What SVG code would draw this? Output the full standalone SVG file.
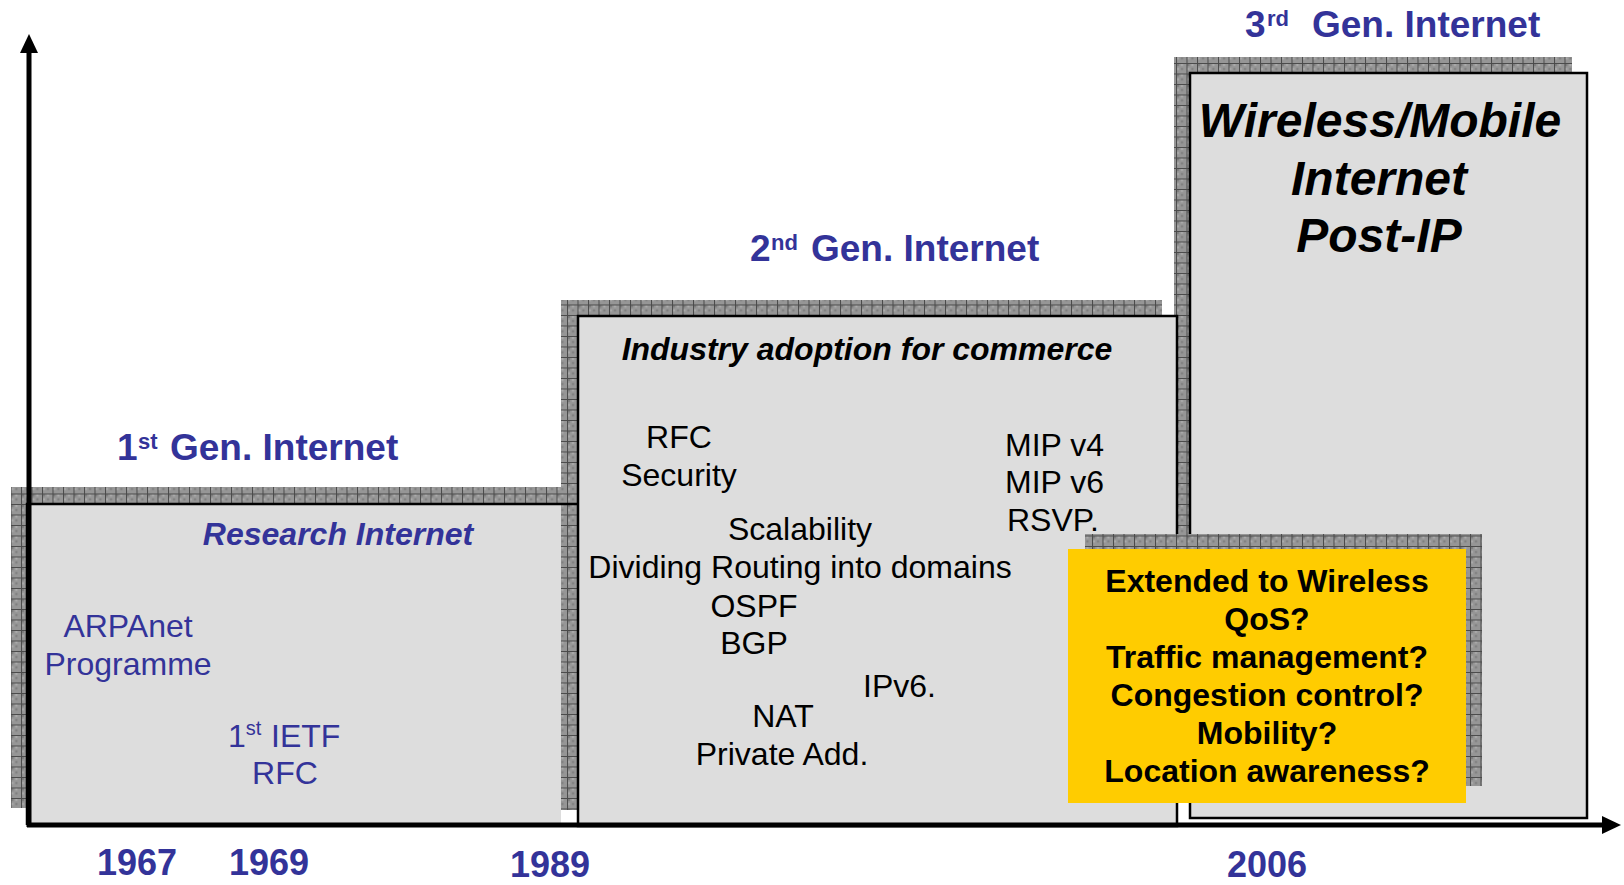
<svg xmlns="http://www.w3.org/2000/svg" width="1624" height="885" viewBox="0 0 1624 885">
<defs>
<pattern id="grid" width="10.5" height="10.5" patternUnits="userSpaceOnUse">
<rect width="10.5" height="10.5" fill="#969696"/>
<rect x="1" y="1" width="2" height="2" fill="#7c7c7c"/>
<rect x="5" y="5" width="2" height="2" fill="#7c7c7c"/>
<rect x="5" y="1" width="2" height="2" fill="#adadad"/>
<rect x="1" y="5" width="2" height="2" fill="#adadad"/>
<path d="M0 0.5 H10.5 M0.5 0 V10.5" stroke="#4a4a4a" stroke-width="1"/>
</pattern>
<marker id="arrow" markerUnits="userSpaceOnUse" markerWidth="19" markerHeight="18" refX="0" refY="9" orient="auto">
<path d="M0 0 L19 9 L0 18 Z" fill="#000"/>
</marker>
</defs>
<style>
.shadow{fill:url(#grid)}
.box{fill:#dddddd;stroke:#000;stroke-width:2.5}
.t{font-family:"Liberation Sans",Arial,sans-serif}
.blue{fill:#333399}
.blk{fill:#000}
.title{font-size:37px;font-weight:bold}
.year{font-size:36px;font-weight:bold}
.bi{font-weight:bold;font-style:italic}
.reg{font-size:32px}
.regb{font-size:32px}
.ybox{font-size:32px;font-weight:bold}
.mid{text-anchor:middle}
</style>
<rect width="1624" height="885" fill="#fff"/>

<g id="gen3">
<rect class="shadow" x="1174" y="57" width="398" height="746"/>
<rect class="box" x="1190" y="73" width="397" height="745" stroke-width="2"/>
<text class="t bi blk mid" font-size="48" x="1380" y="137">Wireless/Mobile</text>
<text class="t bi blk mid" font-size="48" x="1379" y="195">Internet</text>
<text class="t bi blk mid" font-size="48" x="1379" y="252">Post-IP</text>
</g>

<g id="gen2">
<rect class="shadow" x="561" y="300" width="601" height="510"/>
<rect class="box" x="578" y="316" width="599" height="510" stroke-width="2"/>
<text class="t bi blk mid" font-size="32" x="867" y="360">Industry adoption for commerce</text>
<text class="t reg blk mid" x="679" y="448">RFC</text>
<text class="t reg blk mid" x="679" y="486">Security</text>
<text class="t reg blk mid" x="800" y="540">Scalability</text>
<text class="t reg blk mid" x="800" y="578">Dividing Routing into domains</text>
<text class="t reg blk mid" x="754" y="617">OSPF</text>
<text class="t reg blk mid" x="754" y="654">BGP</text>
<text class="t reg blk" x="863" y="697">IPv6.</text>
<text class="t reg blk mid" x="783" y="727">NAT</text>
<text class="t reg blk mid" x="782" y="765">Private Add.</text>
<text class="t reg blk" x="1005" y="456">MIP v4</text>
<text class="t reg blk" x="1005" y="493">MIP v6</text>
<text class="t reg blk" x="1007" y="531">RSVP.</text>
</g>

<g id="gen1">
<rect class="shadow" x="11" y="487" width="551" height="321"/>
<rect x="27" y="504" width="534" height="321" fill="#dddddd"/>
<path d="M577 504 H27 V825" fill="none" stroke="#000" stroke-width="2.5"/>
<text class="t bi blue mid" font-size="32" x="338" y="545">Research Internet</text>
<text class="t regb blue mid" x="128" y="637">ARPAnet</text>
<text class="t regb blue mid" x="128" y="675">Programme</text>
<text class="t regb blue" x="228" y="747">1<tspan font-size="20" dy="-12">st</tspan><tspan x="271" dy="12">IETF</tspan></text>
<text class="t regb blue mid" x="285" y="784">RFC</text>
</g>

<g id="questions">
<rect class="shadow" x="1085" y="534" width="397" height="252"/>
<rect x="1068" y="549" width="398" height="254" fill="#ffcc00"/>
<text class="t ybox blk mid" x="1267" y="592">Extended to Wireless</text>
<text class="t ybox blk mid" x="1267" y="630">QoS?</text>
<text class="t ybox blk mid" x="1267" y="668">Traffic management?</text>
<text class="t ybox blk mid" x="1267" y="706">Congestion control?</text>
<text class="t ybox blk mid" x="1267" y="744">Mobility?</text>
<text class="t ybox blk mid" x="1267" y="782">Location awareness?</text>
</g>

<g id="connectors">
<line x1="29" y1="827" x2="29" y2="53" stroke="#000" stroke-width="5" marker-end="url(#arrow)"/>
<line x1="27" y1="825" x2="1602" y2="825" stroke="#000" stroke-width="5" marker-end="url(#arrow)"/>
</g>

<g id="titles">
<text class="t title blue" x="117" y="460">1<tspan x="138" dy="-11" font-size="22">st</tspan><tspan x="170" dy="11">Gen. Internet</tspan></text>
<text class="t title blue" x="750" y="261">2<tspan x="771" dy="-11" font-size="22">nd</tspan><tspan x="811" dy="11">Gen. Internet</tspan></text>
<text class="t title blue" x="1245" y="37">3<tspan x="1267" dy="-11" font-size="22">rd</tspan><tspan x="1312" dy="11">Gen. Internet</tspan></text>
</g>

<g id="years">
<text class="t year blue" x="97" y="875">1967</text>
<text class="t year blue" x="229" y="875">1969</text>
<text class="t year blue" x="510" y="877">1989</text>
<text class="t year blue" x="1227" y="877">2006</text>
</g>
</svg>
